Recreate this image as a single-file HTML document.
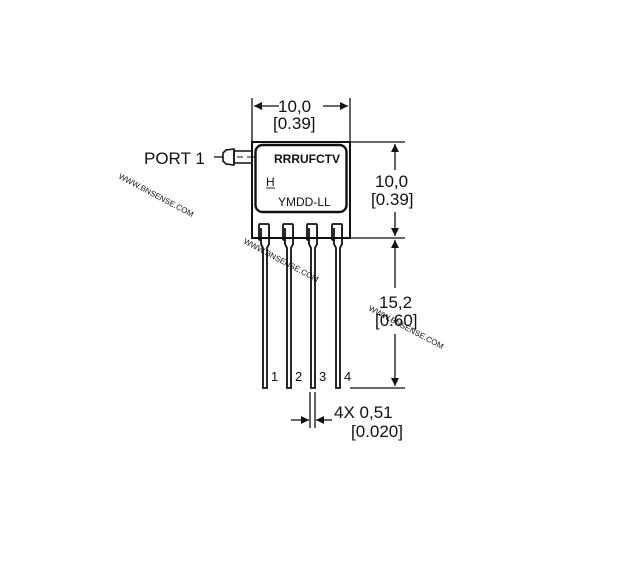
<!DOCTYPE html>
<html><head><style>
body{margin:0;background:#fff;width:619px;height:567px;overflow:hidden}
svg{display:block}
text{font-family:"Liberation Sans",sans-serif;fill:#111}
</style></head><body>
<svg width="619" height="567" viewBox="0 0 619 567">
<defs>
<marker id="a" viewBox="0 0 10 10" refX="10" refY="5" markerWidth="10" markerHeight="8" orient="auto-start-reverse" markerUnits="userSpaceOnUse"><path d="M0,0L10,5L0,10z" fill="#111"/></marker>
</defs>
<g stroke="#111" fill="none" stroke-width="1.3">
<line x1="252" y1="98" x2="252" y2="142"/>
<line x1="350" y1="98" x2="350" y2="142"/>
<line x1="254" y1="106" x2="279" y2="106" marker-start="url(#a)"/>
<line x1="323" y1="106" x2="348" y2="106" marker-end="url(#a)"/>
<rect x="252" y="142" width="98" height="96" stroke-width="2"/>
<rect x="255.5" y="145" width="91" height="67" rx="7" stroke-width="2.4"/>
<path d="M252,151 L234,151 L234,163 L252,163" stroke-width="1.6"/>
<path d="M234,149 L226,150 L223,153 L223,161 L226,164 L234,165 Z" stroke-width="1.6"/>
<line x1="214" y1="157" x2="223" y2="157"/>
<line x1="237" y1="157" x2="243" y2="157" stroke-width="1"/>
<line x1="247" y1="157" x2="256" y2="157" stroke-width="1"/>
<line x1="350" y1="142" x2="405" y2="142"/>
<line x1="350" y1="238" x2="405" y2="238"/>
<line x1="350" y1="388" x2="405" y2="388"/>
<line x1="395" y1="144" x2="395" y2="170" marker-start="url(#a)"/>
<line x1="395" y1="212" x2="395" y2="236" marker-end="url(#a)"/>
<line x1="395" y1="240" x2="395" y2="288" marker-start="url(#a)"/>
<line x1="395" y1="334" x2="395" y2="386" marker-end="url(#a)"/>
<line x1="310" y1="392" x2="310" y2="428"/>
<line x1="315" y1="392" x2="315" y2="428"/>
<line x1="291" y1="420" x2="309" y2="420" marker-end="url(#a)"/>
<line x1="332" y1="420" x2="316" y2="420" marker-end="url(#a)"/>
</g>
<g stroke="#111" fill="#fff" stroke-width="1.8">
<g id="p">
<rect x="259" y="224" width="10" height="16" rx="1"/>
<path d="M261,228 L261,244 L263,248 L263,388 L267,388 L267,248 L269,244 L269,228" />
</g>
<use href="#p" x="24"/>
<use href="#p" x="48"/>
<use href="#p" x="73"/>
</g>
<line x1="252" y1="238" x2="350" y2="238" stroke="#111" stroke-width="2"/>
<text x="278" y="112" font-size="17">10,0</text>
<text x="273" y="129" font-size="17">[0.39]</text>
<text x="144" y="164" font-size="17">PORT 1</text>
<text x="274" y="163" font-size="12" font-weight="bold" fill="#333">RRRUFCTV</text>
<text x="266" y="186" font-size="12" fill="#333">H</text>
<line x1="266" y1="188" x2="275" y2="188" stroke="#333"/>
<text x="278" y="206" font-size="12" fill="#333">YMDD-LL</text>
<text x="375" y="187" font-size="17">10,0</text>
<text x="371" y="205" font-size="17">[0.39]</text>
<text x="379" y="308" font-size="17">15,2</text>
<text x="375" y="326" font-size="17">[0.60]</text>
<text x="271" y="381" font-size="13">1</text>
<text x="295" y="381" font-size="13">2</text>
<text x="319" y="381" font-size="13">3</text>
<text x="344" y="381" font-size="13">4</text>
<text x="334" y="418" font-size="17">4X 0,51</text>
<text x="351" y="437" font-size="17">[0.020]</text>
<g font-size="8" style="fill:#4aa8a0">
<text transform="translate(118,178) rotate(28)">WWW.BNSENSE.COM</text>
<text transform="translate(243,243) rotate(28)">WWW.BNSENSE.COM</text>
<text transform="translate(368,310) rotate(28)">WWW.BNSENSE.COM</text>
</g>
</svg>
</body></html>
